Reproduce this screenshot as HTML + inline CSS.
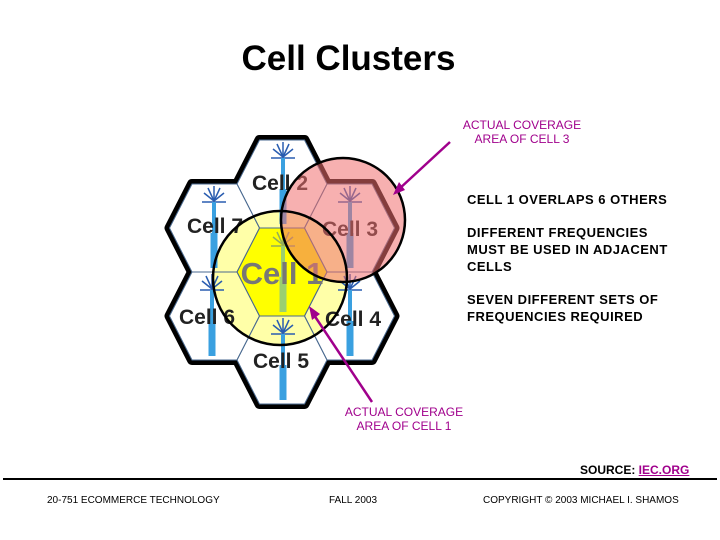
<!DOCTYPE html>
<html><head><meta charset="utf-8"><style>
html,body{margin:0;padding:0;background:#fff;}
body{width:720px;height:540px;position:relative;overflow:hidden;font-family:"Liberation Sans",sans-serif;}
.t{position:absolute;white-space:nowrap;}
</style></head><body>
<svg width="720" height="540" style="position:absolute;left:0;top:0">
<defs>
<polygon id="hx" points="-45,0 -22.5,-44 22.5,-44 45,0 22.5,44 -22.5,44"/>
<g id="ant">
<g stroke="#2a5db0" stroke-width="1.5">
<line x1="0" y1="-27" x2="0" y2="-42"/><line x1="0" y1="-27" x2="-6" y2="-40"/><line x1="0" y1="-27" x2="6" y2="-40"/>
<line x1="0" y1="-27" x2="-10" y2="-35"/><line x1="0" y1="-27" x2="10" y2="-35"/>
<line x1="-12" y1="-26" x2="12" y2="-26"/>
</g>
<rect x="-2" y="-26" width="4" height="32" fill="#3aa0e0"/>
<rect x="-3.5" y="5" width="7" height="35" fill="#3aa0e0"/>
</g>
</defs>
<g fill="#fff" stroke="#000" stroke-width="10" stroke-linejoin="round">
<use href="#hx" x="282" y="272"/><use href="#hx" x="282" y="184"/><use href="#hx" x="282" y="360"/>
<use href="#hx" x="349.5" y="228"/><use href="#hx" x="349.5" y="316"/><use href="#hx" x="214.5" y="228"/><use href="#hx" x="214.5" y="316"/>
</g>
<g fill="#fff" stroke="none">
<use href="#hx" x="282" y="272"/><use href="#hx" x="282" y="184"/><use href="#hx" x="282" y="360"/>
<use href="#hx" x="349.5" y="228"/><use href="#hx" x="349.5" y="316"/><use href="#hx" x="214.5" y="228"/><use href="#hx" x="214.5" y="316"/>
</g>
<circle cx="280" cy="278" r="67" fill="#ffffa8"/>
<use href="#hx" x="282" y="272" fill="#ffff00"/>
<g fill="none" stroke="#4a6a90" stroke-width="1">
<use href="#hx" x="282" y="272"/><use href="#hx" x="282" y="184"/><use href="#hx" x="282" y="360"/>
<use href="#hx" x="349.5" y="228"/><use href="#hx" x="349.5" y="316"/><use href="#hx" x="214.5" y="228"/><use href="#hx" x="214.5" y="316"/>
</g>
<use href="#ant" x="283" y="184"/><use href="#ant" x="283" y="272" opacity="0.5"/><use href="#ant" x="283" y="360"/>
<use href="#ant" x="350" y="228"/><use href="#ant" x="350" y="316"/><use href="#ant" x="214" y="228"/><use href="#ant" x="212" y="316"/>
<g font-family="Liberation Sans, sans-serif" font-weight="bold" font-size="21" fill="#222" text-anchor="middle">
<text x="280" y="190">Cell 2</text>
<text x="215" y="233">Cell 7</text>
<text x="350" y="236">Cell 3</text>
<text x="207" y="324">Cell 6</text>
<text x="353" y="326">Cell 4</text>
<text x="281" y="368">Cell 5</text>
<text x="282" y="284" font-size="31" fill="#777">Cell 1</text>
</g>
<circle cx="343" cy="220" r="62" fill="#f07070" fill-opacity="0.55" stroke="#000" stroke-width="2.5"/>
<circle cx="280" cy="278" r="67" fill="none" stroke="#000" stroke-width="2.5"/>
<g stroke="#a0008c" stroke-width="2.5">
<line x1="450" y1="142" x2="398" y2="190"/>
<line x1="372" y1="402" x2="312" y2="312"/>
</g>
<polygon points="393,195 399,182 405,190" fill="#a0008c"/>
<polygon points="309,306 312,320 320,314" fill="#a0008c"/>
<line x1="3" y1="479" x2="717" y2="479" stroke="#000" stroke-width="2"/>
</svg>
<div class="t" style="left:0;width:697px;text-align:center;top:39px;font-size:35px;font-weight:bold">Cell Clusters</div>
<div class="t" style="left:440px;width:164px;text-align:center;top:118px;font-size:12px;color:#a0008c;line-height:14px">ACTUAL COVERAGE<br>AREA OF CELL 3</div>
<div class="t" style="left:322px;width:164px;text-align:center;top:405px;font-size:12px;color:#a0008c;line-height:14px">ACTUAL COVERAGE<br>AREA OF CELL 1</div>
<div class="t" style="left:467px;top:191px;font-size:13px;font-weight:bold;line-height:17px;letter-spacing:0.5px">CELL 1 OVERLAPS 6 OTHERS</div>
<div class="t" style="left:467px;top:224px;font-size:13px;font-weight:bold;line-height:17px;letter-spacing:0.5px">DIFFERENT FREQUENCIES<br>MUST BE USED IN ADJACENT<br>CELLS</div>
<div class="t" style="left:467px;top:291px;font-size:13px;font-weight:bold;line-height:17px;letter-spacing:0.5px">SEVEN DIFFERENT SETS OF<br>FREQUENCIES REQUIRED</div>
<div class="t" style="left:580px;top:463px;font-size:12px;font-weight:bold">SOURCE: <span style="color:#a0008c;text-decoration:underline">IEC.ORG</span></div>
<div class="t" style="left:47px;top:495px;font-size:10px">20-751 ECOMMERCE TECHNOLOGY</div>
<div class="t" style="left:329px;top:495px;font-size:10px">FALL 2003</div>
<div class="t" style="left:483px;top:495px;font-size:10px">COPYRIGHT © 2003 MICHAEL I. SHAMOS</div>
</body></html>
